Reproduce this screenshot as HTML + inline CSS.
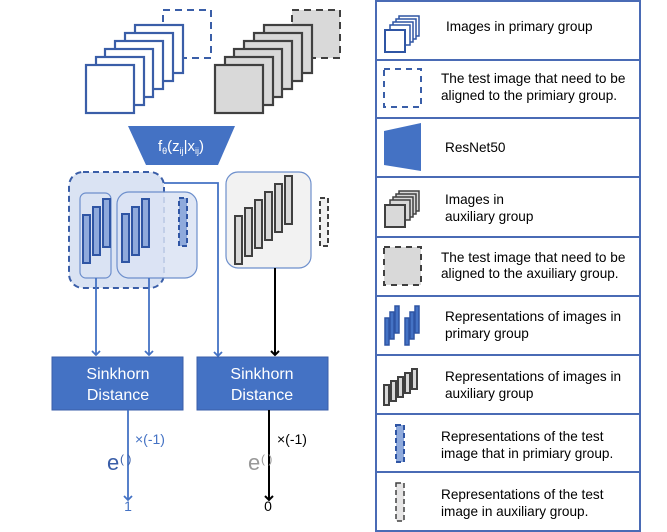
<!DOCTYPE html>
<html><head><meta charset="utf-8"><style>
html,body{margin:0;padding:0;background:#fff;}
svg{display:block;font-family:"Liberation Sans",sans-serif;}
</style></head><body>
<svg width="667" height="532" viewBox="0 0 667 532" xmlns="http://www.w3.org/2000/svg">
<defs>
<marker id="ab" markerWidth="10" markerHeight="10" refX="5" refY="5" orient="auto" markerUnits="userSpaceOnUse"><path d="M1,1 L5,5 L1,9" fill="none" stroke="#4472c4" stroke-width="1.8"/></marker>
<marker id="ak" markerWidth="10" markerHeight="10" refX="5" refY="5" orient="auto" markerUnits="userSpaceOnUse"><path d="M1,1 L5,5 L1,9" fill="none" stroke="#000" stroke-width="2"/></marker>
</defs>
<rect x="163" y="10" width="48" height="48" fill="#fff" stroke="#3a5ea8" stroke-width="2" stroke-dasharray="7,5"/>
<g fill="#fff" stroke="#3a5ea8" stroke-width="2.2">
<rect x="135" y="25" width="48" height="48"/>
<rect x="125" y="33" width="48" height="48"/>
<rect x="115" y="41" width="48" height="48"/>
<rect x="105" y="49" width="48" height="48"/>
<rect x="96" y="57" width="48" height="48"/>
<rect x="86" y="65" width="48" height="48"/>
</g>
<rect x="292" y="10" width="48" height="48" fill="#d9d9d9" stroke="#404040" stroke-width="2" stroke-dasharray="7,5"/>
<g fill="#d9d9d9" stroke="#404040" stroke-width="2.2">
<rect x="264" y="25" width="48" height="48"/>
<rect x="254" y="33" width="48" height="48"/>
<rect x="244" y="41" width="48" height="48"/>
<rect x="234" y="49" width="48" height="48"/>
<rect x="225" y="57" width="48" height="48"/>
<rect x="215" y="65" width="48" height="48"/>
</g>
<polygon points="128,126 235,126 218,165 146,165" fill="#4472c4"/>
<text x="181" y="151" fill="#fff" font-size="15" text-anchor="middle">f<tspan font-size="9" dy="3">θ</tspan><tspan dy="-3">(z</tspan><tspan font-size="9" dy="3">ij</tspan><tspan dy="-3">|x</tspan><tspan font-size="9" dy="3">ij</tspan><tspan dy="-3">)</tspan></text>
<rect x="69" y="172" width="95" height="116" rx="14" fill="#dae3f3" stroke="#3a5ea8" stroke-width="2" stroke-dasharray="6,4"/>
<rect x="80" y="193" width="31" height="85" rx="6" fill="#dae3f3" stroke="#6d8fcc" stroke-width="1.2"/>
<rect x="117" y="192" width="80" height="86" rx="12" fill="#dae3f3" fill-opacity="0.85" stroke="#6d8fcc" stroke-width="1.2"/>
<g fill="#8faadc" stroke="#2f55a4" stroke-width="2">
<rect x="83" y="215" width="7" height="48"/><rect x="93" y="207" width="7" height="48"/><rect x="103" y="199" width="7" height="48"/>
<rect x="122" y="214" width="7" height="48"/><rect x="132" y="207" width="7" height="48"/><rect x="142" y="199" width="7" height="48"/>
</g>
<rect x="179" y="198" width="8" height="48" fill="#8faadc" stroke="#2f55a4" stroke-width="2" stroke-dasharray="5,3"/>
<polyline points="164,183 218,183 218,356" fill="none" stroke="#4472c4" stroke-width="1.8" marker-end="url(#ab)"/>
<rect x="226" y="172" width="85" height="96" rx="12" fill="#f2f2f2" stroke="#6d8fcc" stroke-width="1.2"/>
<g fill="#d9d9d9" stroke="#404040" stroke-width="2">
<rect x="235" y="216" width="7" height="48"/><rect x="245" y="208" width="7" height="48"/><rect x="255" y="200" width="7" height="48"/>
<rect x="265" y="192" width="7" height="48"/><rect x="275" y="184" width="7" height="48"/><rect x="285" y="176" width="7" height="48"/>
</g>
<rect x="320" y="198" width="8" height="48" fill="#f2f2f2" stroke="#404040" stroke-width="2" stroke-dasharray="5,3"/>
<line x1="96" y1="278" x2="96" y2="355" stroke="#4472c4" stroke-width="1.8" marker-end="url(#ab)"/>
<line x1="149" y1="278" x2="149" y2="355" stroke="#4472c4" stroke-width="1.8" marker-end="url(#ab)"/>
<line x1="275" y1="268" x2="275" y2="355" stroke="#000" stroke-width="2" marker-end="url(#ak)"/>
<rect x="52" y="357" width="131" height="53" fill="#4472c4" stroke="#3a5ea8"/>
<rect x="197" y="357" width="131" height="53" fill="#4472c4" stroke="#3a5ea8"/>
<g fill="#fff" font-size="16" text-anchor="middle">
<text x="118" y="379">Sinkhorn</text><text x="118" y="400">Distance</text>
<text x="262" y="379">Sinkhorn</text><text x="262" y="400">Distance</text>
</g>
<line x1="128" y1="410" x2="128" y2="500" stroke="#4472c4" stroke-width="1.8" marker-end="url(#ab)"/>
<line x1="269" y1="410" x2="269" y2="500" stroke="#000" stroke-width="2" marker-end="url(#ak)"/>
<text x="135" y="444" fill="#4472c4" font-size="14">×(-1)</text>
<text x="277" y="444" fill="#000" font-size="14">×(-1)</text>
<text x="107" y="470" fill="#3a5ea8" font-size="22">e</text><text x="120" y="463" fill="#3a5ea8" font-size="12">( )</text>
<text x="248" y="470" fill="#999" font-size="22">e</text><text x="261" y="463" fill="#999" font-size="12">( )</text>
<text x="128" y="511" fill="#4472c4" font-size="14" text-anchor="middle">1</text>
<text x="268" y="511" fill="#000" font-size="14" text-anchor="middle">0</text>
<rect x="376" y="1" width="264" height="530" fill="#fff" stroke="#4a6bb5" stroke-width="2"/>
<g stroke="#4a6bb5" stroke-width="2">
<line x1="376" y1="60" x2="640" y2="60"/><line x1="376" y1="118" x2="640" y2="118"/>
<line x1="376" y1="177" x2="640" y2="177"/><line x1="376" y1="237" x2="640" y2="237"/>
<line x1="376" y1="296" x2="640" y2="296"/><line x1="376" y1="355" x2="640" y2="355"/>
<line x1="376" y1="414" x2="640" y2="414"/><line x1="376" y1="472" x2="640" y2="472"/>
</g>
<g fill="#fff" stroke="#2f55a4" stroke-width="1.5">
<rect x="399" y="16" width="20" height="20"/><rect x="396" y="19" width="20" height="20"/><rect x="393" y="22" width="20" height="20"/><rect x="390" y="25" width="20" height="20"/><rect x="385" y="30" width="20" height="22" stroke-width="2"/>
</g>
<rect x="384" y="69" width="37" height="38" fill="#fff" stroke="#3a5ea8" stroke-width="2" stroke-dasharray="6,5"/>
<polygon points="384,131 421,123 421,171 384,165" fill="#4472c4"/>
<g fill="#d9d9d9" stroke="#404040" stroke-width="1.5">
<rect x="399" y="191" width="20" height="20"/><rect x="396" y="194" width="20" height="20"/><rect x="393" y="197" width="20" height="20"/><rect x="390" y="200" width="20" height="20"/><rect x="385" y="205" width="20" height="22" stroke-width="2"/>
</g>
<rect x="384" y="247" width="37" height="38" fill="#d9d9d9" stroke="#404040" stroke-width="2" stroke-dasharray="6,5"/>
<g fill="#4472c4" stroke="#2f55a4" stroke-width="1.5">
<rect x="385" y="318" width="4" height="27"/><rect x="390" y="312" width="4" height="27"/><rect x="395" y="306" width="4" height="27"/>
<rect x="405" y="318" width="4" height="27"/><rect x="410" y="312" width="4" height="27"/><rect x="415" y="306" width="4" height="27"/>
</g>
<g fill="#d9d9d9" stroke="#404040" stroke-width="2">
<rect x="384" y="385" width="5" height="20"/><rect x="391" y="381" width="5" height="20"/><rect x="398" y="377" width="5" height="20"/><rect x="405" y="373" width="5" height="20"/><rect x="412" y="369" width="5" height="20"/>
</g>
<rect x="396" y="425" width="8" height="37" fill="#8faadc" stroke="#2f55a4" stroke-width="2" stroke-dasharray="5,3"/>
<rect x="396" y="483" width="8" height="38" fill="#e7e6e6" stroke="#404040" stroke-width="1.5" stroke-dasharray="5,3"/>
<g fill="#000" font-size="13.6">
<text x="446" y="31">Images in primary group</text>
<text x="441" y="83">The test image that need to be</text>
<text x="441" y="100">aligned to the primiary group.</text>
<text x="445" y="152">ResNet50</text>
<text x="445" y="204">Images in</text>
<text x="445" y="221">auxiliary group</text>
<text x="441" y="262">The test image that need to be</text>
<text x="441" y="278">aligned to the axuiliary group.</text>
<text x="445" y="321">Representations of images in</text>
<text x="445" y="338">primary group</text>
<text x="445" y="381">Representations of images in</text>
<text x="445" y="398">auxiliary group</text>
<text x="441" y="441">Representations of  the test</text>
<text x="441" y="458">image that in primiary group.</text>
<text x="441" y="499">Representations of  the test</text>
<text x="441" y="516">image in auxiliary group.</text>
</g>
</svg>
</body></html>
